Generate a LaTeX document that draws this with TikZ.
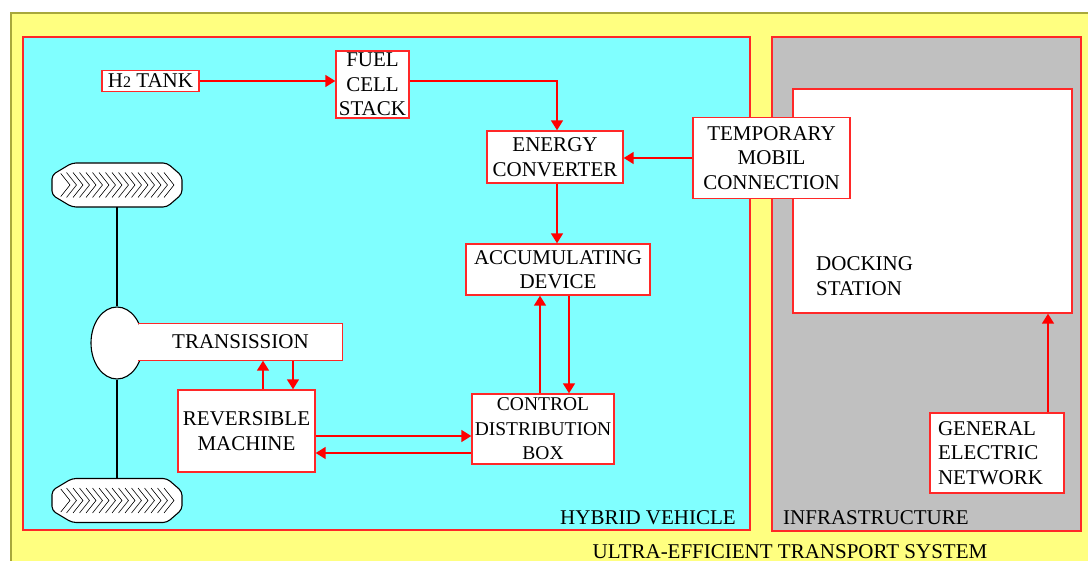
\documentclass[tikz,border=0pt]{standalone}
\usepackage{fontspec}
\setmainfont{Liberation Serif}
\usetikzlibrary{arrows.meta, shapes.geometric}
\definecolor{Jaune}{RGB}{255,255,128}
\definecolor{JauneFonce}{RGB}{168,168,60}
\definecolor{CyanClair}{RGB}{128,255,255}
\definecolor{Gris}{RGB}{192,192,192}
\definecolor{Rouge}{RGB}{255,40,40}
\tikzset{bloc/.style={rectangle, draw=Rouge, fill=white, line width=1.4pt,
  align=center, inner sep=0pt, font=\fontsize{21}{24.5}\selectfont}}
\tikzset{texte/.style={inner sep=0pt, font=\fontsize{21}{24.5}\selectfont}}
\tikzset{zone/.style={draw=Rouge, line width=1.8pt}}
\tikzset{fl/.style={-{Triangle[length=10pt, width=12pt]}, draw=red, line width=1.6pt}}
\tikzset{pneu/.style={draw=black, fill=white, line width=1.1pt, rounded corners=4pt}}

\begin{document}
\begin{tikzpicture}[x=1pt, y=-1pt]
\useasboundingbox (0,0) rectangle (1088,561);
\clip (0,0) rectangle (1088,561);
\fill[white] (0,0) rectangle (1088,561);
% cadres
\draw[fill=Jaune, draw=JauneFonce, line width=2pt] (11,13) rectangle (1110,590);
\draw[zone, fill=CyanClair] (23,37) rectangle (750,530);
\draw[zone, fill=Gris] (772,37) rectangle (1081,531);
\node[texte, anchor=base east] (hv) at (736,524) {HYBRID VEHICLE};
\node[texte, anchor=base west] (infra) at (783,524) {INFRASTRUCTURE};
\node[texte, anchor=base] (ets) at (790,558) {ULTRA-EFFICIENT TRANSPORT SYSTEM};

% roues
\foreach \y/\nom/\dy in {185/pneuH/22, 500.5/pneuB/-22.5} {
  \begin{scope}[shift={(117,\y)}]
  \draw[pneu] (-65,-10)--(-45,-22)--(50,-22)--(65,-9)--(65,9)--(50,22)--(-45,22)--(-65,10)--cycle;
  \begin{scope}
  \clip (-61,-9)--(-44,-18)--(49,-18)--(61,-8)--(61,8)--(49,18)--(-44,18)--(-61,9)--cycle;
  \foreach \i in {0,...,16}
    \draw[line width=0.6pt] (-57+\i*6.5,-12.5) -- ++(10,12.5) -- ++(-10,12.5);
  \end{scope}
  \coordinate (\nom) at (0,\dy);
  \end{scope}
}

% transmission
\node[ellipse, draw=black, fill=white, line width=1.1pt, minimum width=52, minimum height=72, inner sep=0pt] (diff) at (117,343) {};
\node[bloc, draw=none, minimum width=203, minimum height=36] (trans) at (240.5,342) {TRANSISSION};
\draw[Rouge, line width=1.4pt] (trans.north west) -- (trans.north east) -- (trans.south east) -- (trans.south west);
\draw[line width=1.1pt] (pneuH) -- (diff.north);
\draw[line width=1.1pt] (diff.south) -- (pneuB);

% blocs
\node[bloc, minimum width=97, minimum height=21] (tank) at (150.5,81) {H{\fontsize{16}{16}\selectfont 2} TANK};
\node[bloc, minimum width=73, minimum height=67] (pile) at (372.5,84.5) {FUEL\\CELL\\STACK};
\node[bloc, minimum width=136, minimum height=52] (conv) at (555,157) {ENERGY\\CONVERTER};
\node[bloc, minimum width=279, minimum height=224] (dock) at (932.5,201) {};
\node[texte, anchor=west, align=left] (dockt) at (816,276) {DOCKING\\STATION};
\node[bloc, minimum width=157, minimum height=81] (temp) at (771.5,158) {TEMPORARY\\MOBIL\\CONNECTION};
\node[bloc, minimum width=184, minimum height=51] (accu) at (558,269.5) {ACCUMULATING\\DEVICE};
\node[bloc, minimum width=142, minimum height=70, font=\fontsize{19.5}{24.5}\selectfont] (ctrl) at (543,429) {CONTROL\\DISTRIBUTION\\BOX};
\node[bloc, minimum width=137, minimum height=82] (mach) at (246.5,431) {REVERSIBLE\\MACHINE};
\node[bloc, minimum width=134, minimum height=80, text width=118, align=left] (gen) at (997,453) {GENERAL\\ELECTRIC\\NETWORK};

% fleches
\draw[fl] (tank.east) -- (tank.east -| pile.west);
\draw[fl] (pile.east |- tank.east) -| ([xshift=2]conv.north);
\draw[fl] (temp.west) -- (temp.west -| conv.east);
\draw[fl] ([xshift=2]conv.south) -- ([xshift=2]conv.south |- accu.north);
\draw[fl] ([xshift=-3]ctrl.north) -- ([xshift=-3]ctrl.north |- accu.south);
\draw[fl] ([xshift=26]ctrl.north |- accu.south) -- ([xshift=26]ctrl.north);
\draw[fl] ([yshift=-5]mach.east) -- ([yshift=-5]mach.east -| ctrl.west);
\draw[fl] ([yshift=-22]mach.east -| ctrl.west) -- ([yshift=-22]mach.east);
\draw[fl] ([xshift=16.5]mach.north) -- ([xshift=16.5]mach.north |- trans.south);
\draw[fl] ([xshift=46.5]mach.north |- trans.south) -- ([xshift=46.5]mach.north);
\draw[fl] ([xshift=51]gen.north) -- ([xshift=51]gen.north |- dock.south);
\end{tikzpicture}
\end{document}
